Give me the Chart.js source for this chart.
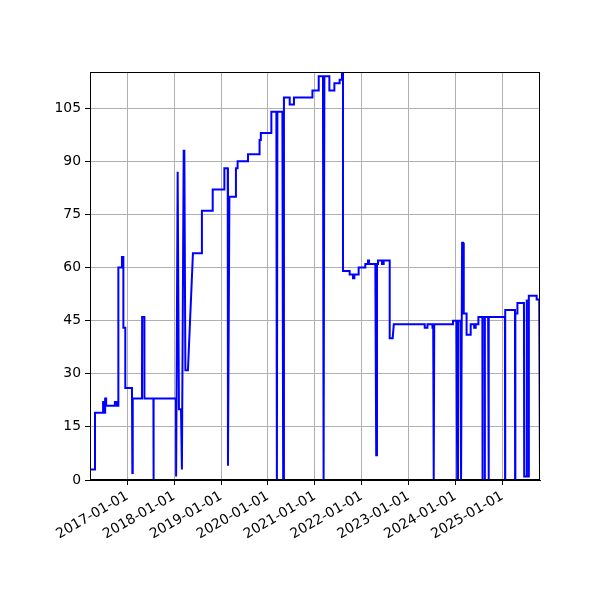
<!DOCTYPE html>
<html>
<head>
<meta charset="utf-8">
<script src="https://cdn.jsdelivr.net/npm/chart.js@4/dist/chart.umd.min.js"></script>
<style>
  html, body { margin: 0; padding: 0; background: #fff; }
  canvas { display: block; }
</style>
</head>
<body>
<canvas id="chart" width="600" height="600"></canvas>
<script>
// Values (date, value); repeated dates give the vertical steps
const dates = [
  '2016-03-16','2016-04-24','2016-04-24','2016-06-26','2016-06-26','2016-07-04','2016-07-04','2016-07-12',
  '2016-07-12','2016-07-20','2016-07-20','2016-09-26','2016-09-26','2016-10-12','2016-10-12','2016-10-23',
  '2016-10-23','2016-11-20','2016-11-20','2016-12-01','2016-12-01','2016-12-16','2016-12-16','2017-02-06',
  '2017-02-09','2017-02-12','2017-04-25','2017-04-26','2017-05-13','2017-05-14','2017-07-23','2017-07-24',
  '2017-07-25','2018-01-15','2018-01-16','2018-01-28','2018-02-07','2018-02-23','2018-03-02','2018-03-16',
  '2018-03-21','2018-03-29','2018-04-18','2018-05-27','2018-08-05','2018-08-05','2018-10-28','2018-10-28',
  '2019-01-27','2019-01-27','2019-02-22','2019-02-24','2019-03-07','2019-04-27','2019-04-27','2019-05-10',
  '2019-05-10','2019-07-30','2019-07-30','2019-10-28','2019-10-28','2019-11-07','2019-11-07','2020-01-28',
  '2020-01-28','2020-03-07','2020-03-11','2020-03-15','2020-04-23','2020-04-29','2020-05-05','2020-06-19',
  '2020-06-19','2020-07-22','2020-07-22','2020-12-13','2020-12-13','2021-01-31','2021-01-31','2021-03-05',
  '2021-03-10','2021-03-16','2021-04-24','2021-04-24','2021-06-02','2021-06-02','2021-07-13','2021-07-13',
  '2021-07-31','2021-07-31','2021-08-08','2021-08-08','2021-09-29','2021-09-29','2021-10-25','2021-10-25',
  '2021-11-05','2021-11-05','2021-12-08','2021-12-08','2022-01-29','2022-01-29','2022-02-19','2022-02-19',
  '2022-02-27','2022-02-27','2022-04-17','2022-04-24','2022-04-30','2022-05-08','2022-05-08','2022-06-08',
  '2022-06-08','2022-06-21','2022-06-21','2022-08-07','2022-08-07','2022-08-30','2022-09-08','2023-05-07',
  '2023-05-07','2023-05-28','2023-05-28','2023-07-06','2023-07-06','2023-07-12','2023-07-16','2023-07-20',
  '2023-12-13','2023-12-13','2024-01-09','2024-01-15','2024-01-21','2024-02-09','2024-02-14','2024-02-22',
  '2024-03-01','2024-03-06','2024-03-28','2024-03-28','2024-04-29','2024-04-29','2024-05-26','2024-05-26',
  '2024-06-07','2024-06-07','2024-06-28','2024-06-28','2024-07-29','2024-07-30','2024-07-31','2024-08-16',
  '2024-08-17','2024-08-18','2024-09-12','2024-09-15','2024-09-18','2025-01-21','2025-01-22','2025-01-23',
  '2025-04-09','2025-04-10','2025-04-12','2025-04-28','2025-04-28','2025-06-18','2025-06-20','2025-07-07',
  '2025-07-09','2025-07-11','2025-07-22','2025-07-26','2025-09-25','2025-09-25','2025-10-15','2025-10-21'
];
const values = [
  3, 3, 19, 19, 22, 22, 19, 19,
  23, 23, 21, 21, 22, 22, 21, 21,
  60, 60, 63, 63, 43, 43, 26, 26,
  2, 23, 23, 46, 46, 23, 23, 0,
  23, 23, 1, 87, 20, 20, 3, 93,
  93, 31, 31, 64, 64, 76, 76, 82,
  82, 88, 88, 4, 80, 80, 88, 88,
  90, 90, 92, 92, 96, 96, 98, 98,
  104, 104, 0, 104, 104, 0, 108, 108,
  106, 106, 108, 108, 110, 110, 114, 114,
  0, 114, 114, 110, 110, 112, 112, 113,
  113, 115, 115, 59, 59, 58, 58, 57,
  57, 58, 58, 60, 60, 61, 61, 62,
  62, 61, 61, 7, 61, 61, 62, 62,
  61, 61, 62, 62, 40, 40, 44, 44,
  43, 43, 44, 44, 43, 43, 0, 44,
  44, 45, 45, 0, 45, 45, 0, 67,
  67, 47, 47, 41, 41, 44, 44, 43,
  43, 44, 44, 46, 46, 0, 46, 46,
  0, 46, 46, 0, 46, 46, 0, 48,
  48, 0, 47, 47, 50, 50, 1, 1,
  51, 1, 1, 52, 52, 51, 51, 1
];

const xTickLabels = ['2017-01-01', '2018-01-01', '2019-01-01', '2020-01-01', '2021-01-01',
                     '2022-01-01', '2023-01-01', '2024-01-01', '2025-01-01'];
const yTickValues = [0, 15, 30, 45, 60, 75, 90, 105];
const yMax = 115.2;

const points = dates.map((d, i) => ({ x: Date.parse(d), y: values[i] }));
const tickFont = { family: 'DejaVu Sans', size: 13.9 };

// draws the four spines like matplotlib
const frame = {
  id: 'frame',
  beforeDraw(chart) {
    const c = chart.ctx;
    c.save();
    c.fillStyle = '#fff';
    c.fillRect(0, 0, chart.width, chart.height);
    c.restore();
  },
  afterDraw(chart) {
    const a = chart.chartArea;
    const c = chart.ctx;
    c.save();
    c.strokeStyle = '#000';
    c.lineWidth = 1;
    c.strokeRect(Math.round(a.left) + 0.5, Math.round(a.top) + 0.5,
                 Math.round(a.right - a.left) - 1, Math.round(a.bottom - a.top) - 1);
    c.restore();
  }
};

const ctx = document.getElementById('chart').getContext('2d');
new Chart(ctx, {
  type: 'line',
  data: {
    datasets: [{
      data: points,
      borderColor: '#0000ff',
      borderWidth: 2,
      pointRadius: 0,
      tension: 0,
      fill: false
    }]
  },
  options: {
    responsive: false,
    animation: false,
    devicePixelRatio: 1,
    layout: { padding: { top: 72, right: 60, left: 0, bottom: 0 } },
    plugins: { legend: { display: false }, tooltip: { enabled: false } },
    scales: {
      x: {
        type: 'linear',
        min: points[0].x,
        max: points[points.length - 1].x,
        afterBuildTicks: s => { s.ticks = xTickLabels.map(t => ({ value: Date.parse(t) })); },
        afterFit: s => { s.height = 120; },
        ticks: {
          autoSkip: false,
          minRotation: 30,
          maxRotation: 30,
          padding: 3,
          color: '#000',
          font: tickFont,
          callback: (v, i) => xTickLabels[i]
        },
        grid: { color: '#b0b0b0', lineWidth: 1, tickColor: '#000', tickLength: 5 },
        border: { color: '#000' }
      },
      y: {
        min: 0,
        max: yMax,
        afterBuildTicks: s => { s.ticks = yTickValues.map(v => ({ value: v })); },
        afterFit: s => { s.width = 90; },
        ticks: { padding: 4, color: '#000', font: tickFont },
        grid: { color: '#b0b0b0', lineWidth: 1, tickColor: '#000', tickLength: 5 },
        border: { color: '#000' }
      }
    }
  },
  plugins: [frame]
});
</script>
</body>
</html>
